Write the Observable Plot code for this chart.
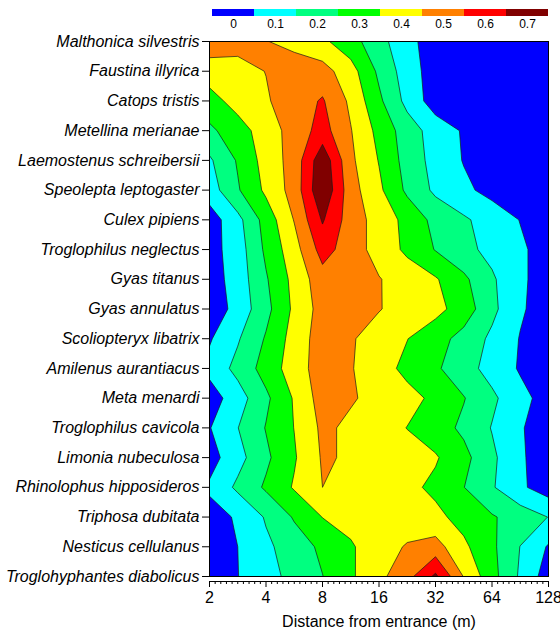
<!DOCTYPE html>
<html>
<head>
<meta charset="utf-8">
<script src="https://cdn.jsdelivr.net/npm/d3@7"></script>
<script src="https://cdn.jsdelivr.net/npm/@observablehq/plot@0.6"></script>
<style>
  html, body { margin: 0; padding: 0; background: #fff; }
  #chart svg { display: block; }
</style>
</head>
<body>
<div id="chart"></div>
<script>
// ---- data -------------------------------------------------------------
const species = [
  "Malthonica silvestris", "Faustina illyrica", "Catops tristis", "Metellina merianae",
  "Laemostenus schreibersii", "Speolepta leptogaster", "Culex pipiens", "Troglophilus neglectus",
  "Gyas titanus", "Gyas annulatus", "Scoliopteryx libatrix", "Amilenus aurantiacus",
  "Meta menardi", "Troglophilus cavicola", "Limonia nubeculosa", "Rhinolophus hipposideros",
  "Triphosa dubitata", "Nesticus cellulanus", "Troglohyphantes diabolicus"
];
// distances (m) at which the grid values are read (evenly spaced on the log2 axis)
const sampleDistances = [2, 2.83, 4, 5.66, 8, 11.3, 16, 22.6, 32, 45.3, 64, 90.5, 128];
const majorTicks = [2, 4, 8, 16, 32, 64, 128];
const levels = [0, 0.1, 0.2, 0.3, 0.4, 0.5, 0.6, 0.7];
const levelLabels = ["0", "0.1", "0.2", "0.3", "0.4", "0.5", "0.6", "0.7"];
const levelColors = ["#0000ff", "#00ffff", "#00ff80", "#00ff00", "#ffff00", "#ff8000", "#ff0000", "#800000"];

// one row per species (top to bottom), one value per sample distance
const rowValues = [
  [0.56, 0.53, 0.505, 0.46, 0.42, 0.34, 0.235, 0.13, 0.05, 0.02, 0.01, 0, 0],        // Malthonica silvestris
  [0.45, 0.47, 0.502, 0.57, 0.54, 0.44, 0.28, 0.15, 0.05, 0.02, 0.01, 0, 0],         // Faustina illyrica
  [0.36, 0.44, 0.49, 0.55, 0.61, 0.48, 0.32, 0.17, 0.05, 0.02, 0.01, 0, 0],          // Catops tristis
  [0.28, 0.355, 0.45, 0.54, 0.64, 0.505, 0.37, 0.25, 0.155, 0.09, 0.04, 0.01, 0],    // Metellina merianae
  [0.185, 0.31, 0.44, 0.54, 0.77, 0.52, 0.395, 0.26, 0.165, 0.095, 0.05, 0.02, 0],   // Laemostenus schreibersii
  [0.15, 0.29, 0.42, 0.54, 0.79, 0.54, 0.42, 0.28, 0.18, 0.12, 0.07, 0.03, 0.01],    // Speolepta leptogaster
  [0.05, 0.17, 0.34, 0.505, 0.71, 0.55, 0.46, 0.37, 0.27, 0.215, 0.155, 0.097, 0.06], // Culex pipiens
  [0.06, 0.15, 0.32, 0.46, 0.64, 0.55, 0.46, 0.38, 0.295, 0.23, 0.17, 0.115, 0.06],  // Troglophilus neglectus
  [0.05, 0.145, 0.29, 0.43, 0.56, 0.53, 0.505, 0.455, 0.41, 0.32, 0.215, 0.115, 0.06], // Gyas titanus
  [0.035, 0.135, 0.27, 0.42, 0.54, 0.54, 0.505, 0.46, 0.43, 0.355, 0.225, 0.113, 0.05], // Gyas annulatus
  [0.09, 0.19, 0.31, 0.44, 0.55, 0.51, 0.455, 0.402, 0.34, 0.265, 0.18, 0.095, 0.05], // Scoliopteryx libatrix
  [0.13, 0.23, 0.34, 0.45, 0.55, 0.507, 0.44, 0.375, 0.315, 0.24, 0.163, 0.09, 0.04], // Amilenus aurantiacus
  [0.05, 0.155, 0.28, 0.41, 0.545, 0.51, 0.47, 0.43, 0.38, 0.305, 0.22, 0.13, 0.06],  // Meta menardi
  [0.095, 0.198, 0.305, 0.402, 0.52, 0.48, 0.44, 0.398, 0.345, 0.28, 0.195, 0.11, 0.04], // Troglophilus cavicola
  [0.06, 0.165, 0.28, 0.39, 0.51, 0.49, 0.46, 0.435, 0.41, 0.33, 0.22, 0.115, 0.04],  // Limonia nubeculosa
  [0.115, 0.22, 0.315, 0.41, 0.50, 0.47, 0.45, 0.425, 0.378, 0.302, 0.21, 0.117, 0.05], // Rhinolophus hipposideros
  [0.065, 0.11, 0.21, 0.31, 0.402, 0.43, 0.44, 0.44, 0.425, 0.365, 0.31, 0.255, 0.198], // Triphosa dubitata
  [0.06, 0.10, 0.18, 0.25, 0.32, 0.39, 0.45, 0.51, 0.54, 0.42, 0.32, 0.198, 0.09],    // Nesticus cellulanus
  [0.05, 0.098, 0.165, 0.23, 0.298, 0.385, 0.475, 0.565, 0.72, 0.495, 0.335, 0.185, 0.05] // Troglohyphantes diabolicus
];

// ---- layout -------------------------------------------------------------
const FONT = "'Liberation Sans', Arial, Helvetica, sans-serif";
const nCols = sampleDistances.length;
const nRows = species.length;
// x positions are log2(distance): the axis is logarithmic, base 2
const u0 = Math.log2(sampleDistances[0]);
const u1 = Math.log2(sampleDistances[nCols - 1]);
const halfStep = (u1 - u0) / (nCols - 1) / 2;

const minorTicks = [];
for (let k = u0; k < u1; k++) for (let j = 1; j < 10; j++) minorTicks.push(k + j / 10);

const legend = Plot.plot({
  width: 560, height: 32,
  marginLeft: 212, marginRight: 12, marginTop: 9, marginBottom: 16,
  style: {fontFamily: FONT, fontSize: "12px", color: "#000", background: "transparent"},
  x: {type: "band", domain: levelLabels, padding: 0},
  color: {type: "ordinal", domain: levelLabels, range: levelColors},
  marks: [
    Plot.cell(levelLabels, {x: d => d, fill: d => d}),
    Plot.axisX({tickSize: 0, tickPadding: 3, label: null})
  ]
});

const chart = Plot.plot({
  width: 560, height: 601,
  marginLeft: 209, marginRight: 12, marginTop: 9, marginBottom: 57,
  style: {fontFamily: FONT, fontSize: "16px", color: "#000", background: "transparent"},
  x: {domain: [u0, u1]},
  y: {domain: [nRows - 1, 0]},
  color: {type: "ordinal", domain: levels, range: levelColors},
  marks: [
    Plot.frame({fill: levelColors[0]}),
    Plot.contour(rowValues.flat(), {
      width: nCols, height: nRows,
      x1: u0 - halfStep, x2: u1 + halfStep,
      y1: -0.5, y2: nRows - 0.5,
      thresholds: levels.slice(1),
      fill: Plot.identity,
      stroke: "#1a1a1a", strokeWidth: 0.7,
      clip: true
    }),
    Plot.frame({stroke: "#000", strokeWidth: 1}),
    Plot.axisY({
      ticks: d3.range(nRows), tickFormat: i => species[i],
      tickSize: 7, tickPadding: 3, fontStyle: "italic", label: null
    }),
    Plot.ruleY([nRows - 1], {dy: 5, stroke: "#000"}),
    Plot.axisX({ticks: minorTicks, tickSize: 3, tickFormat: () => "", dy: 5, label: null}),
    Plot.axisX({
      ticks: majorTicks.map(Math.log2), tickFormat: u => String(Math.round(2 ** u)),
      tickSize: 6, tickPadding: 4, dy: 5, fontSize: 16,
      label: "Distance from entrance (m)", labelAnchor: "center", labelArrow: "none", labelOffset: 50
    })
  ]
});

const root = document.getElementById("chart");
root.appendChild(legend);
root.appendChild(chart);
</script>
</body>
</html>
